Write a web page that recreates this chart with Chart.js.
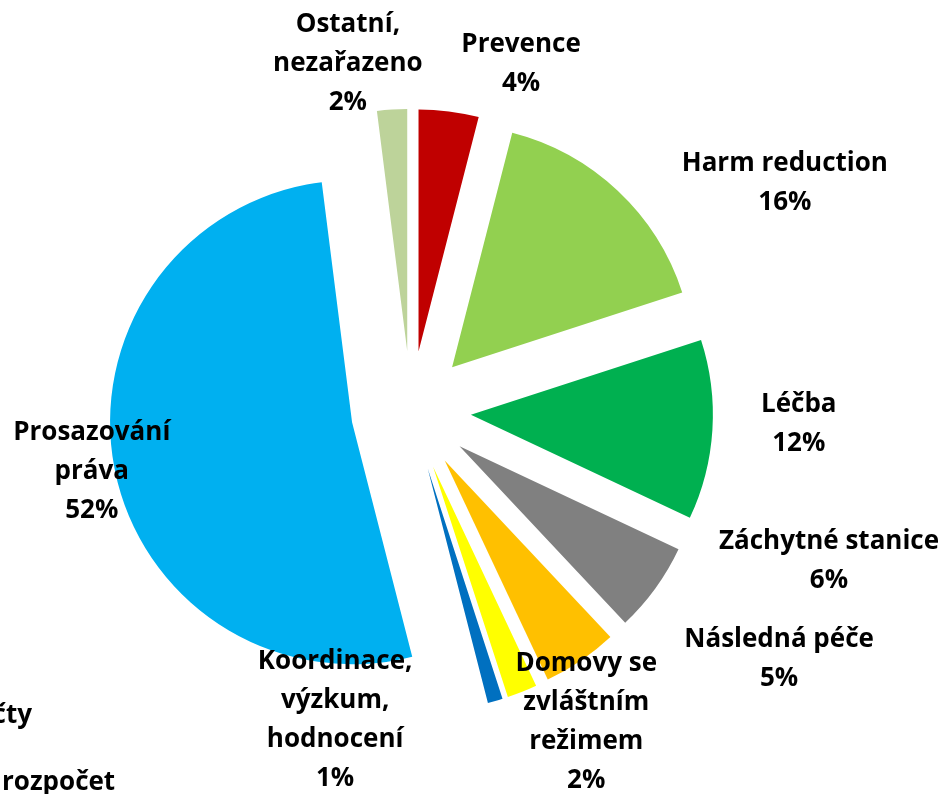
<!DOCTYPE html>
<html lang="cs">
<head>
<meta charset="utf-8">
<title>Výdaje podle oblastí</title>
<script src="https://cdn.jsdelivr.net/npm/chart.js@4.4.1/dist/chart.umd.min.js"></script>
<style>
  html, body { margin: 0; padding: 0; background: #fff; }
  #wrap { width: 944px; height: 794px; overflow: hidden; }
</style>
</head>
<body>
<div id="wrap"><canvas id="pie" width="944" height="794"></canvas></div>
<script>
// kategorie (po směru hodinových ručiček od 12 hodin)
const categories = [
  ['Prevence'],
  ['Harm reduction'],
  ['Léčba'],
  ['Záchytné stanice'],
  ['Následná péče'],
  ['Domovy se', 'zvláštním', 'režimem'],
  ['Koordinace,', 'výzkum,', 'hodnocení'],
  ['Prosazování', 'práva'],
  ['Ostatní,', 'nezařazeno']
];
// podíl v %
const shares = [4, 16, 12, 6, 5, 2, 1, 52, 2];
const colors = ['#C00000', '#92D050', '#00B050', '#808080', '#FFC000', '#FFFF00', '#0070C0', '#00B0F0', '#BDD39A'];

// posun popisků: natočení vůči středu výseče (stupně) a vzdálenost za okrajem (px)
const labelTurn = [10.4, 15.4, -1.6, -16.3, -21.8, -7.8, 30, 0, -6.7];
const labelGap = [62, 136, 86, 142, 142, 55, 16, 23, 51];

const RADIUS = 242;
const EXPLODE = 60;
const FONT = 'bold 26px "Open Sans", "Noto Sans", sans-serif';
const LINE_H = 39;

// vlastní vysunutí výsečí: offset v Chart.js ořezává úzké výseče,
// takže posuneme střed každé výseče po její ose
const explode = {
  id: 'explode',
  afterDatasetUpdate(chart, args) {
    const meta = chart.getDatasetMeta(args.index);
    meta.data.forEach(arc => {
      const mid = (arc.startAngle + arc.endAngle) / 2;
      arc.x += Math.cos(mid) * EXPLODE;
      arc.y += Math.sin(mid) * EXPLODE;
    });
  }
};

const sliceLabels = {
  id: 'sliceLabels',
  afterDatasetsDraw(chart) {
    const ctx = chart.ctx;
    const meta = chart.getDatasetMeta(0);
    ctx.save();
    ctx.font = FONT;
    ctx.fillStyle = '#000';
    ctx.textAlign = 'center';
    ctx.textBaseline = 'middle';
    meta.data.forEach((arc, i) => {
      const mid = (arc.startAngle + arc.endAngle) / 2;
      // zpět do společného středu koláče
      const ox = arc.x - Math.cos(mid) * EXPLODE;
      const oy = arc.y - Math.sin(mid) * EXPLODE;
      const a = mid + labelTurn[i] * Math.PI / 180;
      const r = RADIUS + EXPLODE + labelGap[i];
      const cx = ox + Math.cos(a) * r;
      const cy = oy + Math.sin(a) * r;
      const lines = categories[i].concat([shares[i] + '%']);
      const top = cy - (lines.length - 1) * LINE_H / 2;
      lines.forEach((t, k) => ctx.fillText(t, cx, top + k * LINE_H));
    });
    // zbytek legendy vedlejšího grafu, oříznutý okrajem
    ctx.textAlign = 'right';
    ctx.fillText('rozpočty', 32, 716);
    ctx.textAlign = 'left';
    ctx.fillText('rozpočet', 2, 783);
    ctx.restore();
  }
};

new Chart(document.getElementById('pie'), {
  type: 'pie',
  data: {
    labels: categories.map(c => c.join(' ')),
    datasets: [{
      data: shares,
      backgroundColor: colors,
      borderWidth: 0,
      radius: RADIUS
    }]
  },
  options: {
    responsive: false,
    animation: false,
    events: [],
    layout: { padding: { left: 0, right: 122, top: 28, bottom: 0 } },
    plugins: {
      legend: { display: false },
      tooltip: { enabled: false }
    }
  },
  plugins: [explode, sliceLabels]
});
</script>
</body>
</html>
